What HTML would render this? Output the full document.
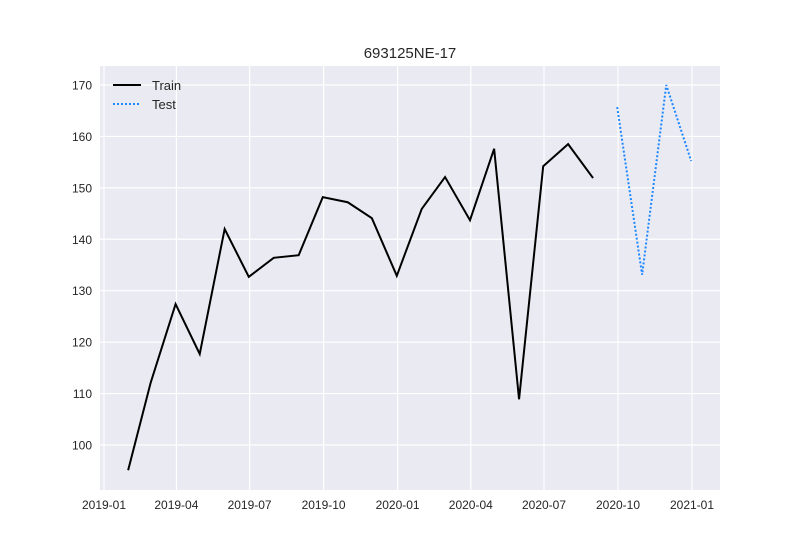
<!DOCTYPE html>
<html><head><meta charset="utf-8"><style>
body{margin:0;background:#fff;font-family:"Liberation Sans",sans-serif}
svg text{font-family:"Liberation Sans",sans-serif;fill:#262626}
</style></head><body>
<svg width="800" height="550" xmlns="http://www.w3.org/2000/svg">
<rect x="0" y="0" width="800" height="550" fill="#fff"/>
<rect x="100" y="66" width="620" height="424" fill="#eaeaf2"/>
<g id="grid"></g><g id="ticks"></g>
<text x="410" y="58" font-size="15" text-anchor="middle">693125NE-17</text>
<g id="series"></g>
<g>
<line x1="113" y1="85" x2="141" y2="85" stroke="#000" stroke-width="2"/>
<text x="152" y="90" font-size="13">Train</text>
<line x1="113" y1="104" x2="141" y2="104" stroke="#1e88ff" stroke-width="2" stroke-dasharray="2,2"/>
<text x="152" y="109" font-size="13">Test</text>
</g>
</svg>
<script>
const trainDates=["2019-01-31","2019-02-28","2019-03-31","2019-04-30","2019-05-31","2019-06-30","2019-07-31","2019-08-31","2019-09-30","2019-10-31","2019-11-30","2019-12-31","2020-01-31","2020-02-29","2020-03-31","2020-04-30","2020-05-31","2020-06-30","2020-07-31","2020-08-31"];
const trainValues=[95.1,112.1,127.4,117.7,142,132.7,136.4,136.9,148.2,147.2,144.1,132.9,145.9,152.1,143.7,157.6,108.9,154.2,158.5,151.9];
const testDates=["2020-09-30","2020-10-31","2020-11-30","2020-12-31"];
const testValues=[165.7,133.1,170,155.2];
const xTicks=["2019-01","2019-04","2019-07","2019-10","2020-01","2020-04","2020-07","2020-10","2021-01"];
const yTicks=[100,110,120,130,140,150,160,170];
const NS="http://www.w3.org/2000/svg";
const t0=Date.parse("2019-01-01"),t1=Date.parse("2021-01-01");
function xs(d){return 104+(Date.parse(d)-t0)/(t1-t0)*588;}
function ys(v){return 445-(v-100)*5.143;}
function mk(tag,attrs,parent){const e=document.createElementNS(NS,tag);for(const k in attrs)e.setAttribute(k,attrs[k]);parent.appendChild(e);return e;}
const grid=document.getElementById('grid'),ticks=document.getElementById('ticks'),series=document.getElementById('series');
xTicks.forEach(t=>{const x=xs(t+"-01");
const l=mk('line',{x1:x,x2:x,y1:66,y2:490,stroke:'#fff','stroke-width':1.2},grid);


const tx=mk('text',{x:x,y:509,'font-size':12,'text-anchor':'middle'},ticks);tx.textContent=t;

});
yTicks.forEach(v=>{const y=ys(v);
const l=mk('line',{x1:100,x2:720,y1:y,y2:y,stroke:'#fff','stroke-width':1.2},grid);


const tx=mk('text',{x:92,y:y+4.5,'font-size':12,'text-anchor':'end'},ticks);tx.textContent=v;

});
const p1=mk('polyline',{points:trainDates.map((d,i)=>xs(d)+","+ys(trainValues[i])).join(" "),fill:'none',stroke:'#000','stroke-width':2},series);


const p2=mk('polyline',{points:testDates.map((d,i)=>xs(d)+","+ys(testValues[i])).join(" "),fill:'none',stroke:'#1e88ff','stroke-width':2,'stroke-dasharray':'2,2'},series);


</script>
</body></html>
